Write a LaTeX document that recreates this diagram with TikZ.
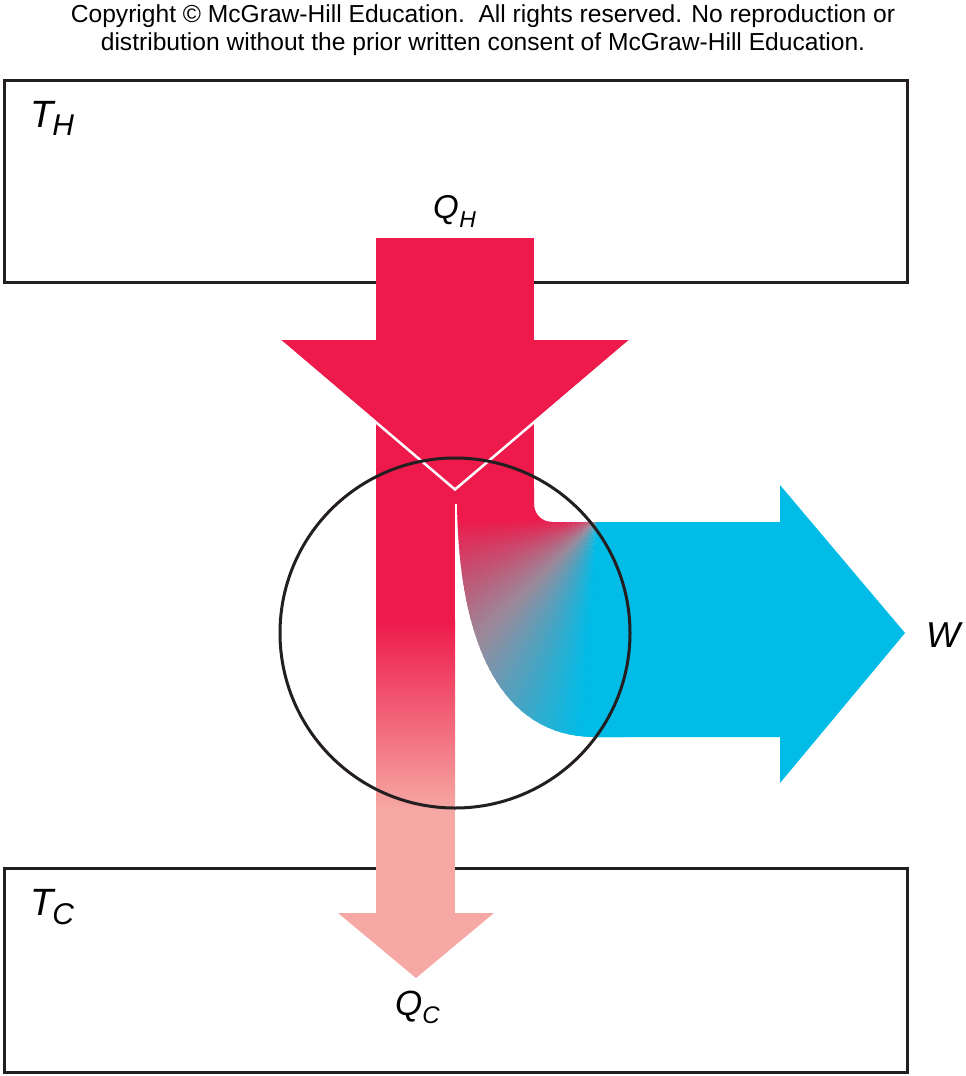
\documentclass[tikz,border=0pt]{standalone}
\usepackage{fontspec}
\setmainfont{Liberation Sans}
\definecolor{cred}{HTML}{ED1A4B}
\definecolor{cpink}{HTML}{F6A9A4}
\definecolor{cblue}{HTML}{00BCE7}
\definecolor{cgray}{HTML}{9A8A9B}
\definecolor{cline}{HTML}{231F20}
\begin{document}
\begin{tikzpicture}[x=1pt,y=-1pt,
  reservoir/.style={draw=cline,line width=3pt},
  lab/.style={anchor=base west,inner sep=0pt,font=\fontsize{38}{38}\selectfont\itshape},
  note/.style={anchor=base,inner sep=0pt,font=\fontsize{24.6}{28}\selectfont}]
\useasboundingbox (0,0) rectangle (966,1076);
% copyright
\node[note] (copy1) at (483,22) {Copyright \textcopyright{} McGraw-Hill Education.\ \ All rights reserved. No reproduction or};
\node[note] (copy2) at (483,50) {distribution without the prior written consent of McGraw-Hill Education.};
% reservoirs
\draw[reservoir] (4,80) rectangle (907,282);
\draw[reservoir] (4,868) rectangle (907,1072);
% blue work arrow
\fill[cblue] (596,522) -- (780,522) -- (780,485) -- (905,633) -- (780,783) -- (780,737) -- (596,737) -- cycle;
% red shaft (upper)
\fill[cred] (376,238) rectangle (534,504);
% left shaft: red, gradient, pink
\fill[cred] (376,500) rectangle (455,621);
\shade[top color=cred,bottom color=cpink] (376,620) rectangle (455,811);
\fill[cpink] (376,810) rectangle (455,914);
\fill[cpink] (338,913) -- (494,913) -- (416,978) -- cycle;
% bent part with conic-like gradient
\begin{scope}
\clip (457,488) -- (534,488) -- (534,504) .. controls (534,514) and (542,522) .. (552,522)
  -- (625,522) -- (625,737) -- (595,737) .. controls (510,737) and (459,660) .. (457,503) -- cycle;
\foreach \a in {-40,-38,...,200}{
  \pgfmathsetmacro\qa{max(0,min(100,\a*2.2222))}
  \pgfmathsetmacro\qb{max(0,min(100,(\a-45)*2.5))}
  \colorlet{wca}{cgray!\qa!cred}
  \colorlet{wc}{cblue!\qb!wca}
  \fill[wc] (598,518) -- ({598-400*cos(\a)},{518+400*sin(\a)}) -- ({598-400*cos(\a+2.6)},{518+400*sin(\a+2.6)}) -- cycle;
}
\end{scope}
% red arrow head
\fill[cred] (281,340) -- (629,340) -- (455,488) -- cycle;
\draw[white,line width=2.5pt] (281,341.5) -- (455,489.5) -- (629,341.5);
% engine circle
\draw[cline,line width=3pt] (455,633) circle[radius=175pt];
% labels
\node[lab] (th) at (30,127) {T\kern-1pt\raisebox{-8pt}{\fontsize{30}{30}\selectfont H}};
\node[lab] (tc) at (30,915) {T\kern-1pt\raisebox{-9pt}{\fontsize{30}{30}\selectfont C}};
\node[lab,font=\fontsize{33}{33}\selectfont\itshape] (qh) at (433,218) {Q\kern0.5pt\raisebox{-9pt}{\fontsize{23}{23}\selectfont H}};
\node[lab,font=\fontsize{35}{35}\selectfont\itshape] (qc) at (395,1015) {Q\kern0pt\raisebox{-8pt}{\fontsize{24}{24}\selectfont C}};
\node[lab,font=\fontsize{36}{36}\selectfont\itshape] (w) at (926,647) {W};
\end{tikzpicture}
\end{document}
